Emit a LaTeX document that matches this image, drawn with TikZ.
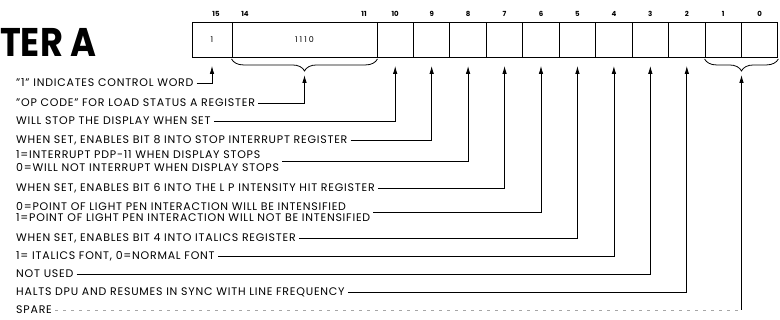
\documentclass[tikz,border=0pt]{standalone}
\usepackage{fontspec}
\setmainfont{Poppins}
\usetikzlibrary{positioning,arrows.meta,decorations.pathreplacing}

\begin{document}
\begin{tikzpicture}[x=1pt,y=-1pt,every node/.style={font=\addfontfeatures{LetterSpace=7}\fontsize{11}{12}\selectfont},
    cell/.style={draw,line width=.9pt,minimum height=35pt,inner sep=0pt,font=\fontsize{8}{9}\selectfont},
    bitnum/.style={font=\fontsize{7}{8}\selectfont\bfseries},
    desc/.style={anchor=west,inner xsep=3pt,inner ysep=0pt,text height=7.6pt,text depth=0pt},
    desctwo/.style={anchor=west,align=left,inner xsep=3pt,inner ysep=0pt},
    lead/.style={-{Latex[length=8pt,width=4.5pt]},line width=.8pt},
    brc/.style={decorate,decoration={brace,mirror,amplitude=12pt},line width=.8pt}]
    \useasboundingbox (0,0) rectangle (780,320);
    \node[font=\fontsize{40}{40}\selectfont\bfseries,anchor=base west,inner sep=0pt,xscale=.88] (title) at (0,57) {TER A};
    % register cells
    \node[cell,minimum width=40pt] (b15) at (212,40) {1};
    \node[cell,minimum width=145pt] (b14) at (304.5,40) {\addfontfeatures{LetterSpace=25}1110};
    \node[bitnum] (n15) at (216,14) {15};
    \node[bitnum] (n14) at (245,14) {14};
    \node[bitnum] (n11) at (364,14) {11};
    \foreach \b [count=\i from 0] in {10,9,...,0} {
      \node[cell,minimum width=36.45pt] (b\b) at ({395.2+36.45*\i},40) {};
      \node[bitnum] (n\b) at ({395.2+36.45*\i},14) {\b};
    }
    \draw[brc] ([yshift=-1pt]b14.south west) -- ([yshift=-1pt]b14.south east);
    \draw[brc] ([yshift=-1pt]b1.south west) -- ([yshift=-1pt]b0.south east);
    \coordinate (optip) at (304.5,75);
    \coordinate (sptip) at (741.5,75);
    \coordinate (spcorner) at (741.5,310);
    % descriptions
    \node[desc] (t15) at (13,83) {"1" INDICATES CONTROL WORD};
    \node[desc] (top) at (13,103) {"OP CODE" FOR LOAD STATUS A REGISTER};
    \node[desc] (t10) at (13,121) {WILL STOP THE DISPLAY WHEN SET};
    \node[desc] (t9) at (13,140) {WHEN SET, ENABLES BIT 8 INTO STOP INTERRUPT REGISTER};
    \node[desctwo] (t8) at (13,161) {1=INTERRUPT PDP-11 WHEN DISPLAY STOPS\\[1pt]0=WILL NOT INTERRUPT WHEN DISPLAY STOPS};
    \node[desc] (t7) at (13,188) {WHEN SET, ENABLES BIT 6 INTO THE L P INTENSITY HIT REGISTER};
    \node[desctwo] (t6) at (13,212) {0=POINT OF LIGHT PEN INTERACTION WILL BE INTENSIFIED\\[-1.5pt]1=POINT OF LIGHT PEN INTERACTION WILL NOT BE INTENSIFIED};
    \node[desc] (t5) at (13,238) {WHEN SET, ENABLES BIT 4 INTO ITALICS REGISTER};
    \node[desc] (t4) at (13,256) {1= ITALICS FONT, 0=NORMAL FONT};
    \node[desc] (t3) at (13,274) {NOT USED};
    \node[desc] (t2) at (13,292) {HALTS DPU AND RESUMES IN SYNC WITH LINE FREQUENCY};
    \node[desc] (tsp) at (13,310) {SPARE};
    % leaders
    \draw[lead,shorten >=8pt] (t15) -| (b15);
    \draw[lead] (top) -| (optip);
    \foreach \b in {10,9,...,2} {
      \draw[lead,shorten >=8pt] (t\b) -| (b\b);
    }
    \draw[black!35,line width=.6pt,dash pattern=on 3pt off 5pt] (tsp) -- (spcorner);
    \draw[lead] (spcorner) -- (sptip);
\end{tikzpicture}
\end{document}
